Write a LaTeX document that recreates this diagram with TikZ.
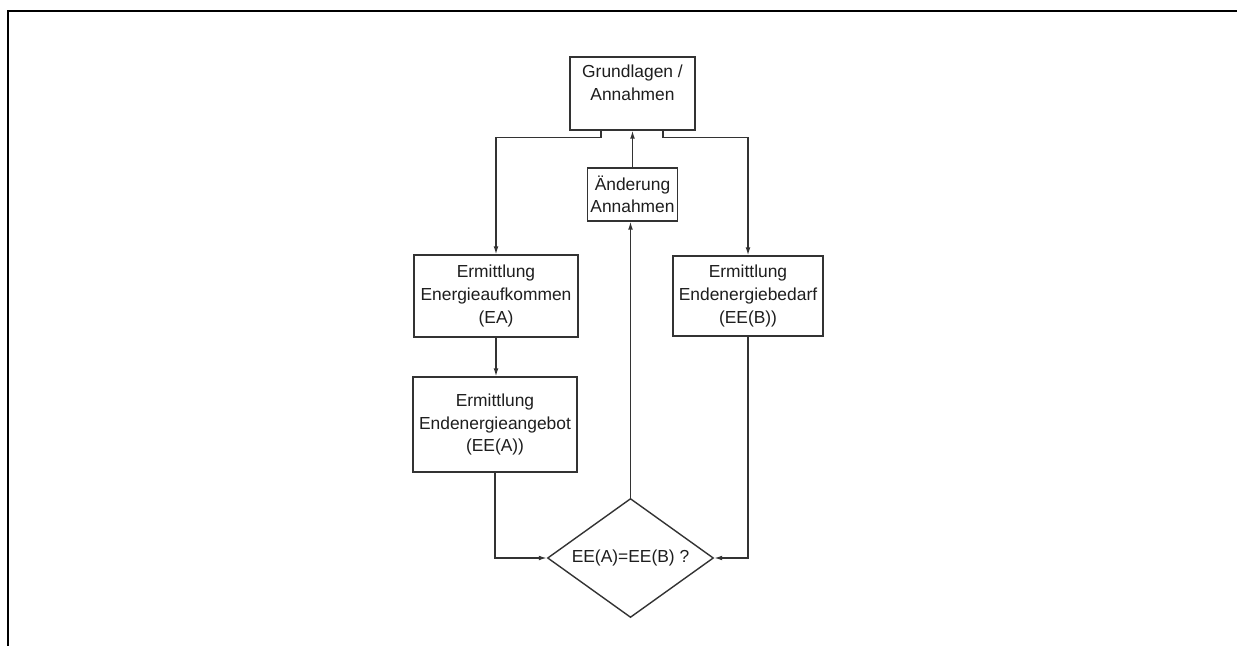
\documentclass[tikz,border=0pt]{standalone}
\usepackage{fontspec}
\setmainfont{Liberation Sans}
\usetikzlibrary{arrows.meta,shapes.geometric,positioning}
\definecolor{ink}{HTML}{333333}
\definecolor{txt}{HTML}{1E1E1E}
\tikzset{
  box/.style={draw=ink, line width=0.65pt, rectangle, inner sep=0pt, align=center,
    text=txt, font=\fontsize{8.7}{11.3}\selectfont},
  dia/.style={draw=ink, line width=0.7pt, diamond, inner sep=0pt,
    minimum width=83pt, minimum height=59.5pt},
  lbl/.style={text=txt, font=\fontsize{8.7}{11.3}\selectfont, inner sep=0pt, align=center},
  conn/.style={draw=ink, line width=0.65pt},
  arr/.style={conn, -{Latex[length=4pt,width=2.4pt]}},
  frame/.style={draw=black, line width=1.1pt}
}
\begin{document}
\begin{tikzpicture}[x=0.5pt,y=-0.5pt]
\useasboundingbox (0,0) rectangle (1237,646);
\fill[white] (0,0) rectangle (1237,646);
% frame
\coordinate (fl) at (8,646);
\coordinate (fc) at (8,11);
\coordinate (fr) at (1237,11);
\draw[frame] (fl) -- (fc) -- (fr);
% nodes
\node[box, minimum width=62.5pt, minimum height=36.5pt] (G) at (632.5,93.5) {};
\node[lbl] (GT) at ([yshift=5.5pt]G.center) {Grundlagen /\\Annahmen};
\node[box, minimum width=45pt, minimum height=26.5pt] (A) at (632.5,194.5) {Änderung\\Annahmen};
\node[box, minimum width=82pt, minimum height=41pt] (EA) at (496,296) {Ermittlung\\Energieaufkommen\\(EA)};
\node[box, minimum width=82pt, minimum height=47.5pt] (EEA) at (495,424.5) {Ermittlung\\Endenergieangebot\\(EE(A))};
\node[box, minimum width=75pt, minimum height=40pt] (EEB) at (748,296) {Ermittlung\\Endenergiebedarf\\(EE(B))};
\node[dia] (D) at (630.5,558) {};
\node[lbl] (DT) at (D.center) {EE(A)=EE(B) ?};
% connectors
\draw[arr] ([xshift=-15.75pt]G.south) -- ++(0,7) -| (EA.north);
\draw[arr] ([xshift=15.25pt]G.south) -- ++(0,7) -| (EEB.north);
\draw[arr] (A.north) -- (G.south);
\draw[arr] (D.north) -- (D.north |- A.south);
\draw[arr] (EA.south) -- (EA.south |- EEA.north);
\draw[arr] (EEA.south) |- (D.west);
\draw[arr] (EEB.south) |- (D.east);
\end{tikzpicture}
\end{document}
